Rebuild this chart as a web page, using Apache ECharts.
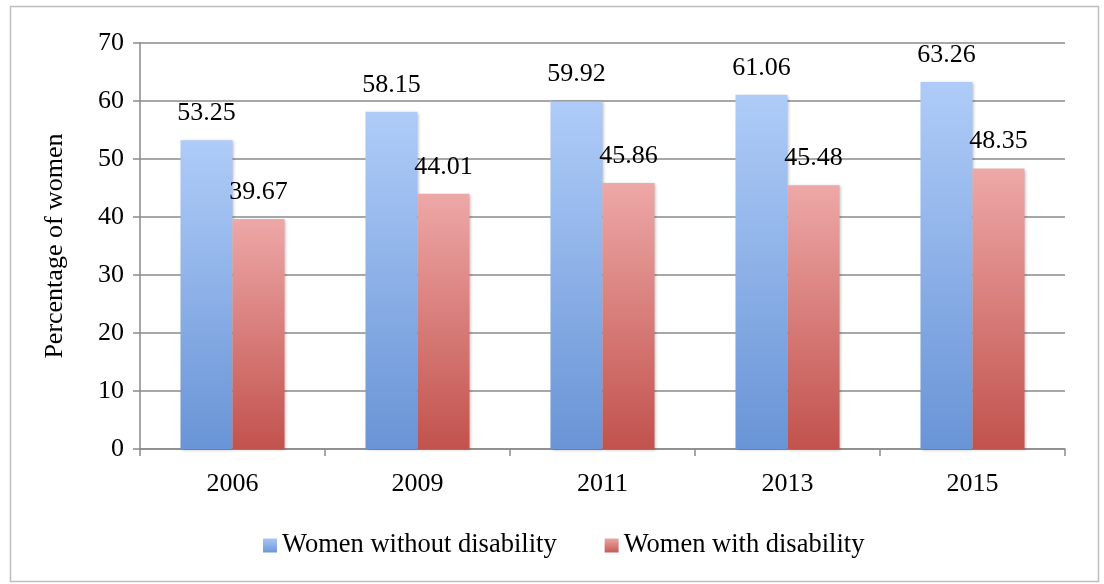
<!DOCTYPE html>
<html>
<head>
<meta charset="utf-8">
<script src="https://cdn.jsdelivr.net/npm/echarts@6/dist/echarts.min.js"></script>
<style>
html,body{margin:0;padding:0;background:#fff;}
#chart{width:1104px;height:584px;}
</style>
</head>
<body>
<div id="chart"></div>
<script>
var categories = ['2006', '2009', '2011', '2013', '2015'];
var withoutDisability = [53.25, 58.15, 59.92, 61.06, 63.26];
var withDisability = [39.67, 44.01, 45.86, 45.48, 48.35];
var seriesNames = ['Women without disability', 'Women with disability'];
var yAxisTitle = 'Percentage of women';

var font = "'Liberation Serif', 'Times New Roman', serif";
var chart = echarts.init(document.getElementById('chart'), null, {renderer: 'canvas'});

function grad(top, bottom) {
  return new echarts.graphic.LinearGradient(0, 0, 0, 1, [
    {offset: 0, color: top}, {offset: 1, color: bottom}
  ]);
}
var blueFill = grad('#afccf8', '#6994d6');
var redFill = grad('#eda8a7', '#c2524d');

var labelCfg = {
  show: true, position: 'top', distance: 14,
  fontFamily: font, fontSize: 26, color: '#000',
  formatter: function (p) { return p.value.toFixed(2); }
};

chart.setOption({
  animation: false,
  backgroundColor: '#fff',
  graphic: [{
    type: 'rect', shape: {x: 10.5, y: 6.5, width: 1088, height: 575},
    style: {fill: 'none', stroke: '#bdbdbd', lineWidth: 1.5}, silent: true, z: -1
  }],
  grid: {left: 140, right: 39, top: 43, bottom: 135},
  legend: {
    top: 527, left: 258, itemWidth: 14, itemHeight: 14, itemGap: 48,
    icon: 'rect',
    textStyle: {fontFamily: font, fontSize: 26.5, color: '#000', padding: [4, 0, 0, 0]},
    data: [
      {name: seriesNames[0], itemStyle: {color: grad('#a9c6f4', '#6d98d8')}},
      {name: seriesNames[1], itemStyle: {color: grad('#eaa5a4', '#c65a55')}}
    ]
  },
  xAxis: {
    type: 'category', data: categories,
    axisLine: {lineStyle: {color: '#8a8a8a', width: 1.5}},
    axisTick: {show: true, length: 7, lineStyle: {color: '#8a8a8a', width: 1.5}, alignWithLabel: false},
    axisLabel: {fontFamily: font, fontSize: 26, color: '#000', margin: 22}
  },
  yAxis: {
    type: 'value', min: 0, max: 70, interval: 10,
    name: yAxisTitle, nameLocation: 'middle', nameGap: 72, nameRotate: 90,
    nameTextStyle: {fontFamily: font, fontSize: 26, color: '#000'},
    axisLine: {show: true, lineStyle: {color: '#8a8a8a', width: 1.5}},
    axisTick: {show: true, length: 7, lineStyle: {color: '#8a8a8a', width: 1.5}},
    axisLabel: {fontFamily: font, fontSize: 26, color: '#000', margin: 16},
    splitLine: {lineStyle: {color: '#8a8a8a', width: 1.5}}
  },
  series: [
    {
      name: seriesNames[0], type: 'bar', data: withoutDisability,
      barWidth: 52, barGap: '0%', barCategoryGap: '43%',
      itemStyle: {color: blueFill, shadowColor: 'rgba(0,0,0,0.25)', shadowBlur: 3, shadowOffsetX: 1, shadowOffsetY: 1},
      label: labelCfg
    },
    {
      name: seriesNames[1], type: 'bar', data: withDisability,
      barWidth: 52, barGap: '0%',
      itemStyle: {color: redFill, shadowColor: 'rgba(0,0,0,0.25)', shadowBlur: 3, shadowOffsetX: 1, shadowOffsetY: 1},
      label: labelCfg
    }
  ]
});
</script>
</body>
</html>
